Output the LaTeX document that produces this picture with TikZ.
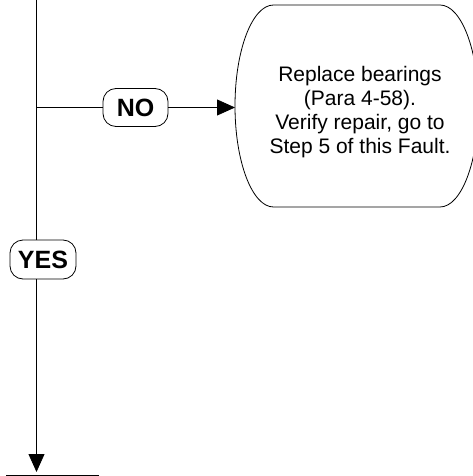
\documentclass[tikz,border=0pt]{standalone}
\usepackage{fontspec}
\setmainfont{Liberation Sans}
\usetikzlibrary{arrows.meta}

\begin{document}
\begin{tikzpicture}[x=1pt,y=1pt,line width=0.8pt,
  flow/.style={-{Triangle[length=18pt,width=16pt]}},
  answer/.style={draw,rounded corners=13pt,minimum width=65pt,minimum height=38pt,inner sep=0pt,font=\fontsize{25}{28}\selectfont\bfseries},
  action/.style={align=center,inner sep=0pt,font=\fontsize{21}{24}\selectfont}]
\useasboundingbox (0,0) rectangle (472,-476);
% main line and answers
\coordinate (top) at (36.5,0);
\coordinate (bottom) at (36.5,-472);
\node[answer] (no) at (135.5,-107.5) {NO};
\node[answer,minimum width=66pt,minimum height=39pt] (yes) at (43,-259.5) {YES};
% action box
\node[action] (step) at (360,-112) {Replace bearings\\(Para 4-58).\\Verify repair, go to\\Step 5 of this Fault.};
\coordinate (stepW) at (235,-107.5);
\draw (273.5,-5) arc[start angle=90,end angle=270,x radius=38.5,y radius=101]
   -- (440,-207) arc[start angle=-90,end angle=90,x radius=38.5,y radius=101] -- cycle;
% connectors
\draw (top) -- (top |- yes.north);
\draw[flow] (top |- yes.south) -- (bottom);
\draw (top |- no) -- (no.west);
\draw[flow] (no.east) -- (stepW);
\draw (6,-475.5) -- (99,-475.5);
\end{tikzpicture}
\end{document}
